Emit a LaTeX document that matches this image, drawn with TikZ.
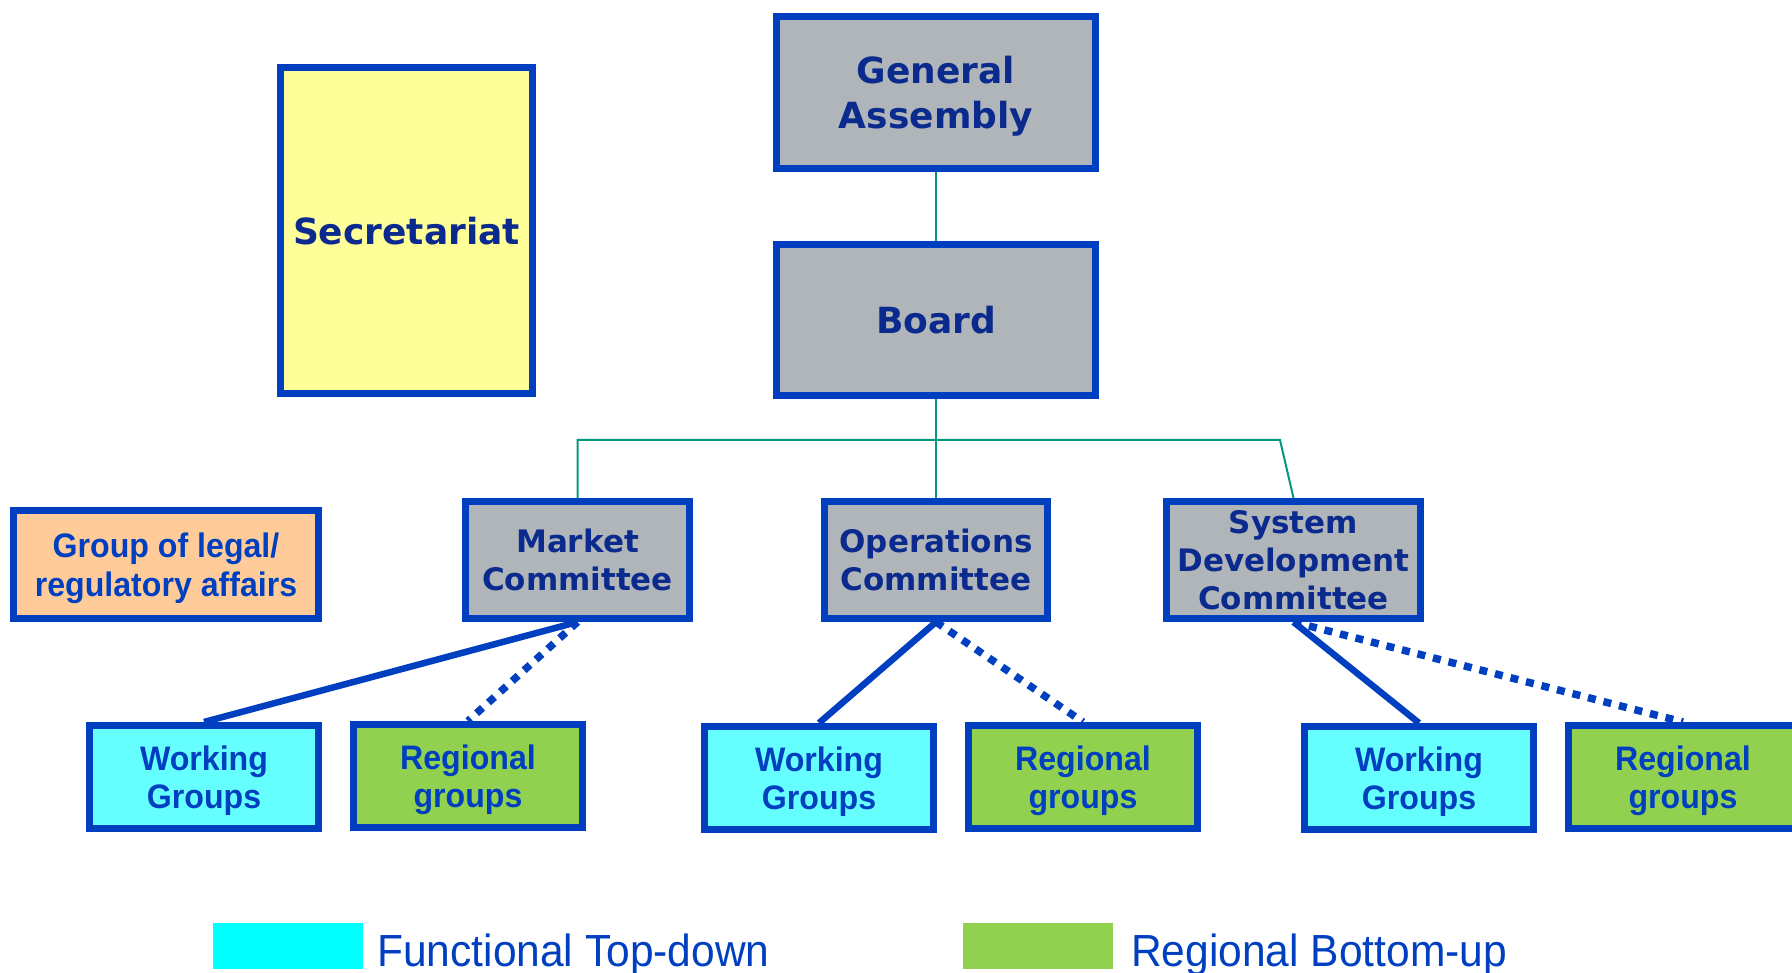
\documentclass[tikz,border=0pt]{standalone}
\usepackage{fontspec}
\newfontfamily\widefont{DejaVu Sans}
\newfontfamily\narrowfont[FakeStretch=0.945]{Liberation Sans}
\definecolor{boxblue}{HTML}{0040C0}
\definecolor{navy}{HTML}{0B2A8E}
\definecolor{boxgrey}{HTML}{AFB5B9}
\definecolor{paleyellow}{HTML}{FFFF99}
\definecolor{peach}{HTML}{FFCC99}
\definecolor{wgcyan}{HTML}{66FFFF}
\definecolor{rggreen}{HTML}{92D050}
\definecolor{keycyan}{HTML}{00FFFF}
\definecolor{linkteal}{HTML}{00997A}

\begin{document}
\begin{tikzpicture}[x=1pt, y=-1pt,
  box/.style = {draw=boxblue, line width=7pt, inner sep=0pt, align=center, text depth=0pt},
  head/.style = {box, fill=boxgrey, text=navy, minimum width=319pt, minimum height=152pt,
    font=\widefont\bfseries\fontsize{36}{45}\selectfont},
  cmte/.style = {box, fill=boxgrey, text=navy, minimum height=117pt,
    font=\widefont\bfseries\fontsize{31}{38}\selectfont},
  sub/.style = {box, text=boxblue, minimum width=229pt, minimum height=103pt,
    font=\narrowfont\bfseries\fontsize{34}{38}\selectfont},
  wg/.style = {sub, fill=wgcyan},
  rg/.style = {sub, fill=rggreen},
  link/.style = {linkteal, line width=2pt},
  solid/.style = {boxblue, line width=6.5pt},
  dots/.style = {boxblue, line width=7.5pt, dash pattern=on 8pt off 8pt},
  key/.style = {inner sep=0pt, minimum width=150pt, minimum height=46pt},
  keytext/.style = {inner sep=0pt, text=boxblue, font=\narrowfont\fontsize{45}{50}\selectfont}]
\useasboundingbox (0,0) rectangle (1792,973);

\node[head] (ga) at (936,92.5) {General\\Assembly};
\node[head, minimum height=151pt] (board) at (936,320) {Board};
\node[box, fill=paleyellow, text=navy, minimum width=252pt, minimum height=326pt,
  font=\widefont\bfseries\fontsize{36}{45}\selectfont] (sec) at (406.5,230.5) {Secretariat};
\node[box, fill=peach, text=boxblue, minimum width=305pt, minimum height=108pt,
  font=\narrowfont\bfseries\fontsize{34}{39}\selectfont] (legal) at (166,564.5) {Group of legal/\\regulatory affairs};

% committees
\node[cmte, minimum width=224pt] (mc) at (577.5,560) {Market\\Committee};
\node[cmte, minimum width=223pt] (oc) at (936,560) {Operations\\Committee};
\node[cmte, minimum width=254pt] (sdc) at (1293.5,560) {System\\Development\\Committee};

% groups
\node[wg] (wg1) at (204,777) {Working\\Groups};
\node[rg] (rg1) at (468,776) {Regional\\groups};
\node[wg] (wg2) at (819,778) {Working\\Groups};
\node[rg] (rg2) at (1083,777) {Regional\\groups};
\node[wg] (wg3) at (1419,778) {Working\\Groups};
\node[rg] (rg3) at (1683,777) {Regional\\groups};

\coordinate (bend) at (1280,440);
\draw[link] (ga) -- (board);
\draw[link] (board) -- (oc);
\draw[link] (mc.north) |- (bend) -- (sdc.north);

\draw[solid] (mc.south) -- (wg1.north);
\draw[dots] (mc.south) -- (rg1.north);
\draw[solid] (oc.south) -- (wg2.north);
\draw[dots] (oc.south) -- (rg2.north);
\draw[solid] (sdc.south) -- (wg3.north);
\draw[dots] (sdc.south) -- (rg3.north);

% legend
\node[key, fill=keycyan] (fkey) at (288,946) {};
\node[keytext, anchor=base west] (ftext) at (377,966) {Functional Top-down};
\node[key, fill=rggreen] (rkey) at (1038,946) {};
\node[keytext, anchor=base west] (rtext) at (1131,966) {Regional Bottom-up};
\end{tikzpicture}
\end{document}
